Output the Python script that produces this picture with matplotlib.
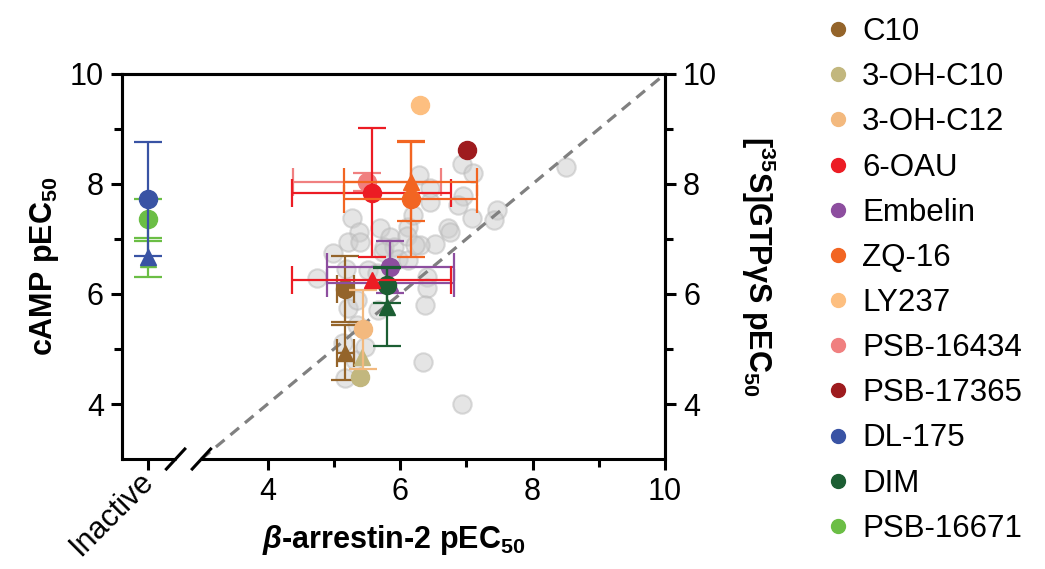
import matplotlib
matplotlib.use("Agg")
import matplotlib.pyplot as plt
from matplotlib.lines import Line2D
import numpy as np

plt.rcParams['font.family'] = ['Liberation Sans', 'DejaVu Sans']
plt.rcParams['mathtext.fontset'] = 'custom'
plt.rcParams['mathtext.rm'] = 'Liberation Sans'
plt.rcParams['mathtext.bf'] = 'Liberation Sans:bold'
plt.rcParams['mathtext.it'] = 'Liberation Sans:italic'
plt.rcParams['mathtext.bfit'] = 'Liberation Sans:bold:italic'

# grey background compounds (beta-arrestin-2 pEC50, cAMP pEC50)
grey_x = [5.27, 5.38, 5.21, 5.39, 5.70, 5.85, 5.76, 5.91, 6.12, 6.10, 6.19, 6.28,
          6.45, 6.45, 6.53, 4.98, 4.74, 5.18, 5.51, 5.74, 5.97, 6.12, 5.65, 6.93,
          7.10, 6.95, 6.87, 8.50, 7.46, 7.42, 7.08, 6.72, 6.75, 6.30, 6.40, 6.40,
          6.37, 5.21, 5.35, 5.66, 5.35, 5.14, 5.32, 5.47, 5.17, 6.34, 6.93, 6.22]
grey_y = [7.38, 7.13, 6.95, 6.95, 7.20, 7.04, 6.85, 6.85, 7.22, 7.05, 7.44, 8.16,
          7.93, 7.67, 6.91, 6.75, 6.29, 6.45, 6.44, 6.76, 6.64, 6.62, 6.38, 8.36,
          8.20, 7.78, 7.62, 8.31, 7.53, 7.35, 7.38, 7.20, 7.13, 6.89, 6.31, 6.11,
          5.80, 5.75, 5.89, 5.71, 5.44, 5.11, 4.80, 5.04, 4.47, 4.76, 4.00, 6.89]

names = ['C10', '3-OH-C10', '3-OH-C12', '6-OAU', 'Embelin', 'ZQ-16', 'LY237',
         'PSB-16434', 'PSB-17365', 'DL-175', 'DIM', 'PSB-16671']
colors = ['#94642A', '#C2B77E', '#F3B97E', '#EC1C24', '#8D4E9F', '#F26522',
          '#FDBF80', '#F08080', '#9E1B1E', '#3953A4', '#1C5E33', '#6BBE45']

INACTIVE = 2.2  # position used for "Inactive" on the x axis

# circles: cAMP pEC50
camp_x = [5.17, 5.39, 5.44, 5.57, 5.85, 6.16, 6.30, 5.50, 7.01, INACTIVE, 5.80, INACTIVE]
camp_y = [6.09, 4.49, 5.36, 7.84, 6.49, 7.73, 9.44, 8.04, 8.62, 7.73, 6.16, 7.37]
camp_xerr = [0.13, 0, 0, 1.20, 0.96, 1.00, 0, 1.12, 0, 0, 0, 0]
camp_yerr = [0.60, 0, 0.72, 1.17, 0.48, 1.06, 0, 0.16, 0, 1.04, 0.33, 0.35]

# triangles: [35S]GTPgS pEC50 (nan = not shown)
gtp_x = [5.17, 5.42, np.nan, 5.57, 5.85, 6.16, np.nan, np.nan, np.nan, INACTIVE, 5.80, INACTIVE]
gtp_y = [4.93, 4.85, np.nan, 6.25, 6.20, 8.04, np.nan, np.nan, np.nan, 6.68, 5.76, 6.64]
gtp_xerr = [0.13, 0, 0, 1.20, 0.96, 1.00, 0, 0, 0, 0, 0, 0]
gtp_yerr = [0.50, 0, 0, 0, 0, 0.72, 0, 0, 0, 0, 0.71, 0.33]

draw_order = [11, 9, 0, 1, 2, 4, 10, 7, 3, 5, 6, 8]

fig = plt.figure(figsize=(10.45, 5.69), dpi=100)
ax = fig.add_axes([0.1167, 0.1933, 0.5197, 0.6767])

XMIN, XMAX, YMIN, YMAX = 1.8, 10, 3, 10
ax.set_xlim(XMIN, XMAX)
ax.set_ylim(YMIN, YMAX)

ax.scatter(grey_x, grey_y, s=175, facecolor=(0.8, 0.8, 0.8, 0.5),
           edgecolor=(0.72, 0.72, 0.72, 0.5), linewidth=1.5, zorder=1)

# line of identity
ax.plot([3, 10], [3, 10], color='#808080', lw=2.3, ls=(0, (3.5, 2.4)), zorder=2)


def nz(v):
    return v if v > 0 else None


for i in draw_order:
    c = colors[i]
    z = 3 + draw_order.index(i)
    if not np.isnan(gtp_y[i]):
        ax.errorbar(gtp_x[i], gtp_y[i], xerr=nz(gtp_xerr[i]), yerr=nz(gtp_yerr[i]),
                    fmt='^', color=c, ms=12, elinewidth=1.6, capsize=10, capthick=1.6,
                    zorder=z)
    ax.errorbar(camp_x[i], camp_y[i], xerr=nz(camp_xerr[i]), yerr=nz(camp_yerr[i]),
                fmt='o', color=c, ms=13, elinewidth=1.6, capsize=10, capthick=1.6,
                zorder=z)

# axes styling
for side in ['left', 'top', 'right']:
    ax.spines[side].set_linewidth(2.2)
ax.spines['bottom'].set_visible(False)

# bottom spine with a break between the "Inactive" column and the scale
brk1, brk2 = 2.61, 3.0
tr = ax.get_xaxis_transform()
ax.plot([XMIN, brk1], [0, 0], color='black', lw=2.2, transform=tr, clip_on=False,
        solid_capstyle='butt', zorder=10)
ax.plot([brk2, XMAX], [0, 0], color='black', lw=2.2, transform=tr, clip_on=False,
        solid_capstyle='butt', zorder=10)
w = XMAX - XMIN
for b in (brk1, brk2):
    xa = (b - XMIN) / w
    ax.plot([xa - 0.017, xa + 0.017], [-0.026, 0.026], color='black', lw=2.2,
            transform=ax.transAxes, clip_on=False, zorder=10)

ax.set_xticks([INACTIVE, 4, 6, 8, 10])
ax.set_xticklabels(['Inactive', '4', '6', '8', '10'])
ax.set_xticks([5, 7, 9], minor=True)
ax.set_yticks([4, 6, 8, 10])
ax.set_yticks([5, 7, 9], minor=True)
ax.tick_params(which='major', length=8, width=2.2, labelsize=22, pad=5)
ax.tick_params(which='minor', length=6, width=2.2)
lab = ax.get_xticklabels()[0]
lab.set_rotation(45)
lab.set_ha('right')
lab.set_va('center')
lab.set_rotation_mode('anchor')

ax2 = ax.twinx()
ax2.set_ylim(YMIN, YMAX)
ax2.set_yticks([4, 6, 8, 10])
ax2.set_yticks([5, 7, 9], minor=True)
ax2.tick_params(which='major', length=8, width=2.2, labelsize=22, pad=5)
ax2.tick_params(which='minor', length=6, width=2.2)
for side in ['left', 'top', 'right']:
    ax2.spines[side].set_linewidth(2.2)
ax2.spines['bottom'].set_visible(False)

ax.set_ylabel(r'cAMP pEC$_{\mathbf{50}}$', fontsize=22, fontweight='bold', labelpad=6.5)
ax.set_xlabel(r'$\mathbfit{β}$-arrestin-2 pEC$_{\mathbf{50}}$', fontsize=22,
              fontweight='bold')
ax.xaxis.set_label_coords(0.5, -0.165)
ax2.set_ylabel(r'[$^{\mathbf{35}}$S]GTPγS pEC$_{\mathbf{50}}$', fontsize=22,
               fontweight='bold', rotation=270, labelpad=43)

handles = [Line2D([], [], marker='o', ls='', color=c, ms=10) for c in colors]
fig.legend(handles, names, loc='upper left', bbox_to_anchor=(0.787, 0.970),
           frameon=False, fontsize=22.5, handlelength=1.0, handletextpad=0.27,
           labelspacing=0.485, borderpad=0, borderaxespad=0)

fig.savefig('out.png', dpi=100)
